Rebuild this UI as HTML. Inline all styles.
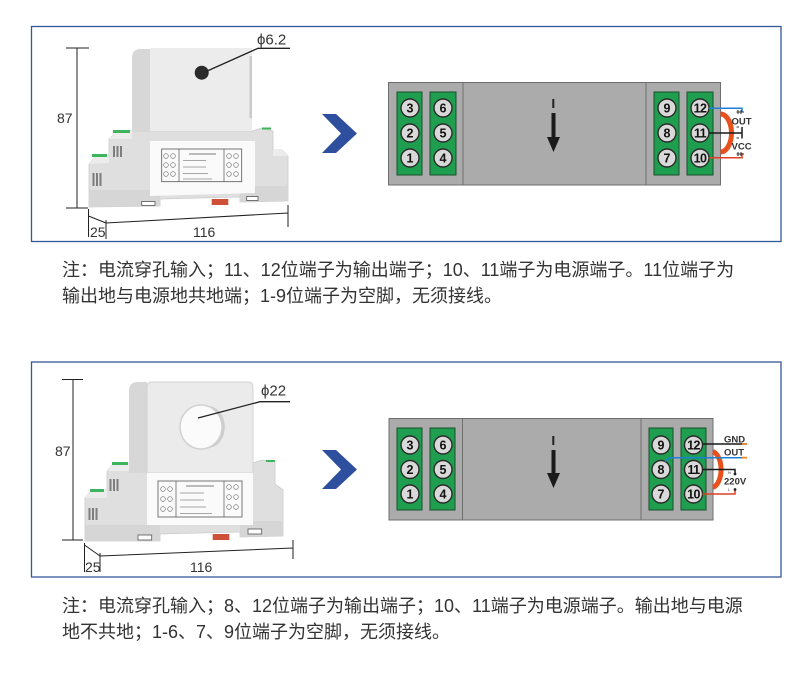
<!DOCTYPE html>
<html><head><meta charset="utf-8">
<style>
html,body{margin:0;padding:0;background:#fff;}
body{width:800px;height:680px;position:relative;overflow:hidden;}
svg{position:absolute;left:0;top:0;}
.p{position:absolute;left:62px;font-family:"Liberation Sans","Noto Sans CJK SC",sans-serif;font-size:18px;line-height:26px;color:#333;white-space:nowrap;}
</style></head><body>
<svg width="800" height="680" viewBox="0 0 800 680" xmlns="http://www.w3.org/2000/svg">
<defs>
<g id="chev"><polygon points="322,114 336,114 357,133.5 336,153 322,153 341,133.5" fill="#2d4f9e"/></g>
</defs>
<!-- frames -->
<rect x="31.5" y="26.5" width="749.5" height="215" fill="none" stroke="#35589a" stroke-width="1.3"/>
<rect x="31.5" y="362" width="749.5" height="215" fill="none" stroke="#35589a" stroke-width="1.3"/>

<!-- ===== Device 1 ===== -->
<g>
<path d="M89,207 L89,164 L97,155 L109,155 L109,139 L117,131 L252,131 L262,128 L273,131 L273,150 L282,150 L288,156 L288,201 L240,202 L240,197 L160,199 L160,206 Z" fill="#dfdfdf" stroke="#cccccc" stroke-width="0.8"/>
<polygon points="89,164 97,155 109,155 109,163" fill="#ececec"/>
<polygon points="109,139 117,131 132,131 132,139" fill="#ececec"/>
<polygon points="273,150 282,150 288,156 273,156" fill="#ececec"/>
<polygon points="89,190 160,190 160,206 89,207" fill="#d6d6d6"/>
<polygon points="240,186 288,186 288,201 240,202" fill="#d6d6d6"/>
<rect x="113" y="130" width="17" height="3" fill="#3db55c"/>
<rect x="92" y="154" width="15" height="3" fill="#3db55c"/>
<rect x="262" y="127.5" width="9" height="2" fill="#3db55c"/>
<g fill="#7d7d7d"><rect x="113" y="146" width="2" height="11"/><rect x="116.5" y="146" width="2" height="11"/><rect x="120" y="146" width="2" height="11"/>
<rect x="92.5" y="173" width="2" height="13"/><rect x="96" y="173" width="2" height="13"/><rect x="99.5" y="173" width="2" height="13"/></g>
<path d="M132,131 L132,58 Q132,49 141,49 L150,49 L150,131 Z" fill="#d7d7d7"/>
<rect x="150" y="48" width="102" height="83" fill="#ececec"/>
<rect x="249.5" y="56" width="2.5" height="62" fill="#cacaca"/>
<circle cx="201.7" cy="72.7" r="7" fill="#2b2b2b"/>
<polygon points="150,141 255,141 255,193 150,196" fill="#fafafa"/>
<rect x="161.7" y="149" width="80" height="32.7" fill="none" stroke="#555" stroke-width="0.8"/>
<line x1="179" y1="149" x2="179" y2="181.7" stroke="#555" stroke-width="0.7"/>
<line x1="224" y1="149" x2="224" y2="181.7" stroke="#555" stroke-width="0.7"/>
<g fill="none" stroke="#666" stroke-width="0.6">
<circle cx="166" cy="156" r="2.3"/><circle cx="173" cy="156" r="2.3"/><circle cx="166" cy="165" r="2.3"/><circle cx="173" cy="165" r="2.3"/><circle cx="166" cy="174" r="2.3"/><circle cx="173" cy="174" r="2.3"/>
<circle cx="229" cy="156" r="2.3"/><circle cx="236" cy="156" r="2.3"/><circle cx="229" cy="165" r="2.3"/><circle cx="236" cy="165" r="2.3"/><circle cx="229" cy="174" r="2.3"/><circle cx="236" cy="174" r="2.3"/>
</g>
<g stroke="#8a8a8a" stroke-width="0.8"><line x1="189" y1="154" x2="216" y2="154" stroke="#555"/><line x1="183" y1="160.5" x2="206" y2="160.5"/><line x1="183" y1="167" x2="206" y2="167"/><line x1="183" y1="173.5" x2="208" y2="173.5"/><line x1="183" y1="179" x2="212" y2="179"/></g>
<rect x="141.7" y="201.5" width="13.3" height="4" fill="#fff" stroke="#555" stroke-width="0.8"/>
<rect x="246.7" y="196.5" width="11.3" height="4" fill="#fff" stroke="#555" stroke-width="0.8"/>
<rect x="211.7" y="199" width="16.6" height="6" fill="#cf5038"/>
</g>
<!-- dims 1 -->
<g stroke="#222" stroke-width="1" fill="none">
<path d="M66,48 H89 M77,48 V208 M66,208 H88 M88.5,209 V237 M88.5,216 L106,223 M106,220 V239 M106,223 L288,213 M288,205 V227"/>
<path d="M205,72 L258,48.3 L290,48.3" stroke-width="1.3"/>
</g>
<g font-family="'Liberation Sans','DejaVu Sans',sans-serif" font-size="14" fill="#333">
<text x="57" y="123">87</text>
<text x="90" y="237">25</text>
<text x="193" y="237">116</text>
<text x="257" y="44.5" font-size="15">ϕ6.2</text>
</g>

<!-- ===== Device 2 ===== -->
<g>
<path d="M85,541 L85,498 L92,490 L107,490 L107,471 L114,463 L253,463 L262,460 L275,462 L275,484 L283,490 L283,536 L240,537 L240,532 L160,534 L160,541 Z" fill="#dfdfdf" stroke="#cccccc" stroke-width="0.8"/>
<polygon points="85,498 92,490 107,490 107,498" fill="#ececec"/>
<polygon points="107,471 114,463 129,463 129,471" fill="#ececec"/>
<polygon points="85,525 160,525 160,541 85,541" fill="#d6d6d6"/>
<polygon points="240,521 283,521 283,536 240,537" fill="#d6d6d6"/>
<rect x="112" y="462" width="16" height="3" fill="#3db55c"/>
<rect x="90" y="489" width="14" height="3" fill="#3db55c"/>
<rect x="266" y="460" width="9" height="2" fill="#3db55c"/>
<g fill="#7d7d7d"><rect x="109.5" y="479" width="2" height="12"/><rect x="113" y="479" width="2" height="12"/><rect x="116.5" y="479" width="2" height="12"/>
<rect x="88.5" y="508" width="2" height="12"/><rect x="92" y="508" width="2" height="12"/><rect x="95.5" y="508" width="2" height="12"/></g>
<path d="M129,473 L129,391 Q129,382 138,382 L147,382 L147,473 Z" fill="#d7d7d7"/>
<path d="M147,387 Q147,382 152,382 L248,382 Q253,382 253,387 L253,473 L147,473 Z" fill="#ebebeb" stroke="#d3d3d3" stroke-width="1"/>
<ellipse cx="201" cy="427" rx="21" ry="22" fill="#fbfbfb" stroke="#d2d2d2" stroke-width="1.5"/>
<path d="M208,406 A21,22 0 0 1 208,448 A16,20 0 0 0 208,406 Z" fill="#cdcdcd"/>
<rect x="147" y="473" width="106" height="52" fill="#fafafa"/>
<rect x="158" y="481" width="84" height="36" fill="none" stroke="#555" stroke-width="0.8"/>
<line x1="176" y1="481" x2="176" y2="517" stroke="#555" stroke-width="0.7"/>
<line x1="224" y1="481" x2="224" y2="517" stroke="#555" stroke-width="0.7"/>
<g fill="none" stroke="#666" stroke-width="0.6">
<circle cx="163" cy="489" r="2.3"/><circle cx="170" cy="489" r="2.3"/><circle cx="163" cy="499" r="2.3"/><circle cx="170" cy="499" r="2.3"/><circle cx="163" cy="509" r="2.3"/><circle cx="170" cy="509" r="2.3"/>
<circle cx="229" cy="487" r="2.3"/><circle cx="236" cy="487" r="2.3"/><circle cx="229" cy="497" r="2.3"/><circle cx="236" cy="497" r="2.3"/><circle cx="229" cy="507" r="2.3"/><circle cx="236" cy="507" r="2.3"/>
</g>
<g stroke="#8a8a8a" stroke-width="0.8"><line x1="186" y1="486" x2="214" y2="486" stroke="#555"/><line x1="180" y1="493" x2="204" y2="493"/><line x1="180" y1="500" x2="204" y2="500"/><line x1="180" y1="507" x2="206" y2="507"/><line x1="180" y1="513.5" x2="212" y2="513.5"/></g>
<rect x="138" y="535" width="13.7" height="5" fill="#fff" stroke="#555" stroke-width="0.8"/>
<rect x="248" y="529" width="13.7" height="5" fill="#fff" stroke="#555" stroke-width="0.8"/>
<rect x="212.7" y="534" width="16.6" height="6" fill="#cf5038"/>
</g>
<!-- dims 2 -->
<g stroke="#222" stroke-width="1" fill="none">
<path d="M62,379.5 H83 M73,379.5 V540 M62,540 H83 M84.5,543 V572 M84.5,545 L100,556 M100,553 V572 M100,556 L293,548 M293,540 V559"/>
<path d="M198,418 L260,401.7 L290,401.7" stroke-width="1.3"/>
</g>
<g font-family="'Liberation Sans','DejaVu Sans',sans-serif" font-size="14" fill="#333">
<text x="55" y="456">87</text>
<text x="85" y="572">25</text>
<text x="190" y="572">116</text>
<text x="261" y="395.5" font-size="15">ϕ22</text>
</g>

<!-- chevrons -->
<use href="#chev"/>
<use href="#chev" transform="translate(0,336)"/>

<!-- ===== Terminal diagram 1 ===== -->
<g>
<rect x="388.5" y="82.5" width="332" height="102.5" fill="#ababab" stroke="#6f6f6f" stroke-width="1"/>
<line x1="463" y1="82.5" x2="463" y2="185" stroke="#6f6f6f"/>
<line x1="646" y1="82.5" x2="646" y2="185" stroke="#6f6f6f"/>
<g fill="#1f9e50" stroke="#1b4f2c" stroke-width="1">
<rect x="397" y="92" width="25" height="83"/><rect x="430" y="92" width="26" height="83"/>
<rect x="654" y="92" width="25" height="83"/><rect x="687" y="92" width="26" height="83"/>
</g>
<g fill="#d9d9d9" stroke="#2a2a2a" stroke-width="1.4">
<circle cx="410" cy="108" r="9"/><circle cx="410" cy="133" r="9"/><circle cx="410" cy="158" r="9"/>
<circle cx="443" cy="108" r="9"/><circle cx="443" cy="133" r="9"/><circle cx="443" cy="158" r="9"/>
<circle cx="667" cy="108" r="9"/><circle cx="667" cy="133" r="9"/><circle cx="667" cy="158" r="9"/>
<circle cx="700" cy="108" r="9"/><circle cx="700" cy="133" r="9"/><circle cx="700" cy="158" r="9"/>
</g>
<g font-family="'Liberation Sans',sans-serif" font-size="12.5" font-weight="bold" fill="#111" text-anchor="middle">
<text x="410" y="112.5">3</text><text x="410" y="137.5">2</text><text x="410" y="162.5">1</text>
<text x="443" y="112.5">6</text><text x="443" y="137.5">5</text><text x="443" y="162.5">4</text>
<text x="667" y="112.5">9</text><text x="667" y="137.5">8</text><text x="667" y="162.5">7</text>
<text x="700" y="112.5" letter-spacing="-0.6">12</text><text x="700" y="137.5" letter-spacing="-0.6">11</text><text x="700" y="162.5" letter-spacing="-0.6">10</text>
</g>
<rect x="552.3" y="99" width="2" height="9" fill="#222"/>
<rect x="551.5" y="113" width="4" height="25" fill="#1a1a1a"/>
<polygon points="547,137 560,137 553.5,152" fill="#1a1a1a"/>
<path d="M720.5,114 A11,19 0 0 1 720.5,152" fill="none" stroke="#e8501e" stroke-width="5"/>
<path d="M709,108.3 H742 V112" fill="none" stroke="#1e7fd6" stroke-width="1.5"/>
<path d="M709,133 H742 M742,127 V138.5" fill="none" stroke="#1a1a1a" stroke-width="1.5"/>
<path d="M709,157.7 H742 V153" fill="none" stroke="#e04020" stroke-width="1.5"/>
<g stroke="#333" stroke-width="1"><path d="M736.5,112 H744 M738,110 V114 M741,110 V114"/><path d="M736.5,127 H739 M736.5,138 H739"/><path d="M736.5,154 H744 M738,152 V156 M741,152 V156"/></g>
<g font-family="'Liberation Sans',sans-serif" font-size="9.5" font-weight="bold" fill="#333">
<text x="731.5" y="124.5">OUT</text>
<text x="731.5" y="149.5">VCC</text>
</g>
</g>

<!-- ===== Terminal diagram 2 ===== -->
<g>
<rect x="389" y="418.5" width="324" height="101.5" fill="#ababab" stroke="#6f6f6f" stroke-width="1"/>
<line x1="462.5" y1="418.5" x2="462.5" y2="520" stroke="#6f6f6f"/>
<line x1="641" y1="418.5" x2="641" y2="520" stroke="#6f6f6f"/>
<g fill="#1f9e50" stroke="#1b4f2c" stroke-width="1">
<rect x="397" y="428" width="25" height="82"/><rect x="430" y="428" width="25" height="82"/>
<rect x="649" y="428" width="24" height="82"/><rect x="681" y="428" width="25" height="82"/>
</g>
<g fill="#d9d9d9" stroke="#2a2a2a" stroke-width="1.4">
<circle cx="410" cy="445" r="9"/><circle cx="410" cy="469.5" r="9"/><circle cx="410" cy="494" r="9"/>
<circle cx="443" cy="445" r="9"/><circle cx="443" cy="469.5" r="9"/><circle cx="443" cy="494" r="9"/>
<circle cx="661" cy="445" r="9"/><circle cx="661" cy="469.5" r="9"/><circle cx="661" cy="494" r="9"/>
<circle cx="693.5" cy="445" r="9"/><circle cx="693.5" cy="469.5" r="9"/><circle cx="693.5" cy="494" r="9"/>
</g>
<g font-family="'Liberation Sans',sans-serif" font-size="12.5" font-weight="bold" fill="#111" text-anchor="middle">
<text x="410" y="449.5">3</text><text x="410" y="474">2</text><text x="410" y="498.5">1</text>
<text x="443" y="449.5">6</text><text x="443" y="474">5</text><text x="443" y="498.5">4</text>
<text x="661" y="449.5">9</text><text x="661" y="474">8</text><text x="661" y="498.5">7</text>
<text x="693.5" y="449.5" letter-spacing="-0.6">12</text><text x="693.5" y="474" letter-spacing="-0.6">11</text><text x="693.5" y="498.5" letter-spacing="-0.6">10</text>
</g>
<rect x="552.3" y="436" width="2" height="9" fill="#222"/>
<rect x="551.5" y="450" width="4" height="24" fill="#1a1a1a"/>
<polygon points="547,473 560,473 553.5,488" fill="#1a1a1a"/>
<path d="M713,451.5 A10.5,18.5 0 0 1 713,487.5" fill="none" stroke="#e8501e" stroke-width="5"/>
<path d="M702.5,444 H747" fill="none" stroke="#1a1a1a" stroke-width="1.5"/>
<path d="M665,461.5 Q667,457.7 673,457.7 H747" fill="none" stroke="#1e7fd6" stroke-width="1.5"/>
<path d="M742,444 H747 M742,457.7 H747" stroke="#f08a30" stroke-width="1.8"/>
<path d="M702.5,469.5 H735 V474" fill="none" stroke="#1a1a1a" stroke-width="1.5"/>
<path d="M702.5,494 H735 V489.5" fill="none" stroke="#e04020" stroke-width="1.5"/>
<circle cx="735" cy="474" r="1.4" fill="#222"/><circle cx="735" cy="489.5" r="1.4" fill="#222"/>
<g font-family="'Liberation Sans',sans-serif" font-size="4" fill="#333"><text x="728" y="474">N</text><text x="728" y="491">L</text></g>
<g font-family="'Liberation Sans',sans-serif" font-size="9.5" font-weight="bold" fill="#333">
<text x="724" y="442.5">GND</text>
<text x="724" y="455.5">OUT</text>
<text x="724" y="484.5">220V</text>
</g>
</g>
</svg>

<div class="p" style="top:257px;">注：电流穿孔输入；11、12位端子为输出端子；10、11端子为电源端子。11位端子为<br>输出地与电源地共地端；1-9位端子为空脚，无须接线。</div>
<div class="p" style="top:593px;">注：电流穿孔输入；8、12位端子为输出端子；10、11端子为电源端子。输出地与电源<br>地不共地；1-6、7、9位端子为空脚，无须接线。</div>
</body></html>
